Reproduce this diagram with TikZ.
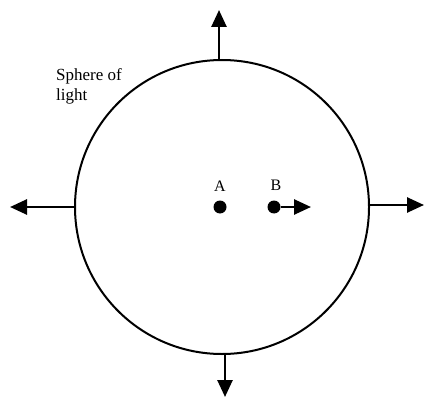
\documentclass[tikz,border=0pt]{standalone}
\usepackage{fontspec}
\setmainfont{Liberation Serif}
\usetikzlibrary{arrows.meta}
\begin{document}
\begin{tikzpicture}[x=1pt,y=-1pt,
  ray/.style={line width=2.6pt,-{Triangle[length=17pt,width=15pt]}},
  dotnode/.style={circle,fill=black,minimum size=13pt,inner sep=0pt},
  lbl/.style={font=\fontsize{16}{17}\selectfont,inner sep=0pt}]
\useasboundingbox (0,0) rectangle (425,398);
\node (S) [circle,draw,line width=2pt,minimum size=294pt,inner sep=0pt] at (222,207) {};
\coordinate (Tt) at (219,10);
\coordinate (Tb) at (225,397);
\coordinate (Tl) at (10,207);
\coordinate (Tr) at (424,205);
\draw[ray] (S.north) ++(-3,0) coordinate (sn) -- (Tt);
\draw[ray] (S.south) ++(3,0) coordinate (ss) -- (Tb);
\draw[ray] (S.west) -- (Tl);
\draw[ray] (S.east) ++(0,-2) coordinate (se) -- (Tr);
\node (A) [dotnode] at (220,207) {};
\node (B) [dotnode] at (274,207) {};
\node (LA) [lbl] at (220,186) {A};
\node (LB) [lbl] at (276,185) {B};
\coordinate (Bt) at (311,207);
\draw[ray] (B.east) -- (Bt);
\node (T) [lbl,align=left,anchor=north west,font=\fontsize{17}{20}\selectfont] at (56,68) {Sphere of\\light};
\end{tikzpicture}
\end{document}
